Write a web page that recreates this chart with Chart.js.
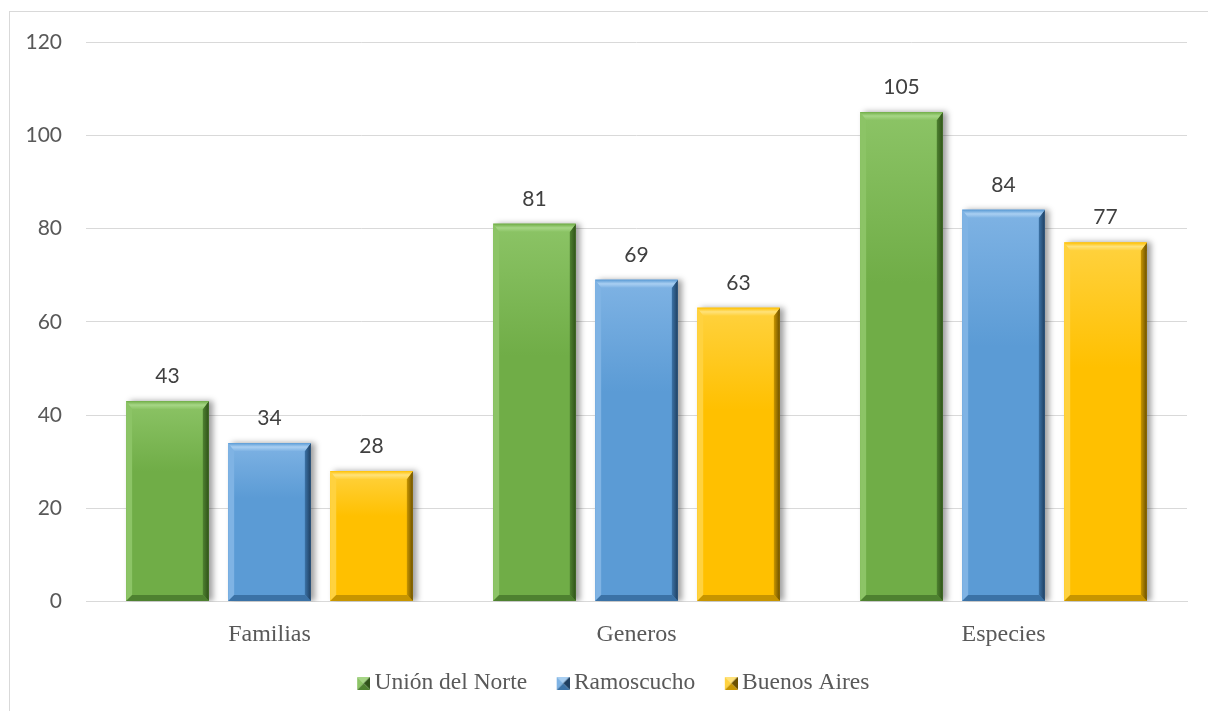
<!DOCTYPE html>
<html>
<head>
<meta charset="utf-8">
<script src="https://cdn.jsdelivr.net/npm/chart.js@4"></script>
<style>
  html, body { margin: 0; padding: 0; background: #fff; overflow: hidden; }
  #wrap { position: relative; width: 1208px; height: 711px; overflow: hidden; }
  #frame { position: absolute; left: 9px; top: 11px; width: 1300px; height: 800px;
           border: 1px solid #d9d9d9; box-sizing: border-box; }
  #c { position: absolute; left: 0; top: 0; }
</style>
</head>
<body>
<div id="wrap">
  <div id="frame"></div>
  <canvas id="c" width="1208" height="711"></canvas>
</div>
<script>
// Taxonomic richness per locality
const categories = ['Familias', 'Generos', 'Especies'];
const seriesNames = ['Unión del Norte', 'Ramoscucho', 'Buenos Aires'];
const unionDelNorte = [43, 81, 105];
const ramoscucho = [34, 69, 84];
const buenosAires = [28, 63, 77];
const yTicks = [0, 20, 40, 60, 80, 100, 120];

// Bevel palette for each series: face, highlight, top edge, shade, bottom edge
const palettes = [
  { face: '#70ad47', light: '#8cc466', top: '#a6d686', dark: '#2f5219', bottom: '#4e8130' },
  { face: '#5b9bd5', light: '#7fb3e4', top: '#a9cff2', dark: '#1f3f60', bottom: '#3b72a6' },
  { face: '#ffc000', light: '#ffd23f', top: '#ffe27a', dark: '#6b5000', bottom: '#c79500' }
];

const legendFont = 23.5;
const legendBox = 13;

// Small pyramid-shaded square used as legend marker; it sits at the right
// end of a wider transparent canvas so it hugs the label text.
function legendIcon(p) {
  const s = 13, w = 28, cv = document.createElement('canvas');
  cv.width = w; cv.height = s;
  const g = cv.getContext('2d'), m = s / 2, o = w - s;
  const tri = (pts, col) => { g.beginPath(); g.moveTo(o + pts[0], pts[1]);
    for (let i = 2; i < pts.length; i += 2) g.lineTo(o + pts[i], pts[i + 1]);
    g.closePath(); g.fillStyle = col; g.fill(); };
  tri([0, 0, s, 0, m, m], p.top);
  tri([0, 0, m, m, 0, s], p.light);
  tri([s, 0, s, s, m, m], p.dark);
  tri([0, s, m, m, s, s], p.bottom);
  return cv;
}
const icons = palettes.map(legendIcon);

const seriesValues = [unionDelNorte, ramoscucho, buenosAires];

function poly(ctx, pts, fill) {
  ctx.beginPath();
  ctx.moveTo(pts[0], pts[1]);
  for (let i = 2; i < pts.length; i += 2) ctx.lineTo(pts[i], pts[i + 1]);
  ctx.closePath();
  ctx.fillStyle = fill;
  ctx.fill();
}

// Drop shadow under the bars, then bevelled faces and value labels on top
const bevelPlugin = {
  id: 'bevel',
  afterLayout(chart) {
    // nudge the legend row so it sits under the plot
    const lg = chart.legend;
    if (lg) { lg.left += 16; lg.right += 16; }
  },
  beforeDatasetsDraw(chart) {
    const ctx = chart.ctx;
    ctx.save();
    ctx.shadowColor = 'rgba(0,0,0,0.38)';
    ctx.shadowBlur = 6;
    ctx.shadowOffsetX = 4;
    ctx.shadowOffsetY = 0;
  },
  afterDatasetsDraw(chart) {
    const ctx = chart.ctx;
    ctx.restore();
    chart.data.datasets.forEach((ds, di) => {
      const p = palettes[di];
      const meta = chart.getDatasetMeta(di);
      meta.data.forEach((bar, i) => {
        const { x, y, width, base } = bar.getProps(['x', 'y', 'width', 'base'], true);
        const l = x - width / 2, r = x + width / 2, t = y, b = base;
        const bt = 8, bs = 6, bb = 6;
        ctx.save();
        const fg = ctx.createLinearGradient(0, t, 0, b);
        fg.addColorStop(0, p.light);
        fg.addColorStop(0.35, p.face);
        fg.addColorStop(1, p.face);
        poly(ctx, [l, t, r, t, r, b, l, b], fg);
        poly(ctx, [l, t, l + bs, t + bt, l + bs, b - bb, l, b], p.light);
        const rg = ctx.createLinearGradient(r - bs, 0, r, 0);
        rg.addColorStop(0, p.bottom);
        rg.addColorStop(1, p.dark);
        poly(ctx, [r, t, r, b, r - bs, b - bb, r - bs, t + bt], rg);
        poly(ctx, [l, b, l + bs, b - bb, r - bs, b - bb, r, b], p.bottom);
        const tg = ctx.createLinearGradient(0, t, 0, t + bt);
        tg.addColorStop(0, p.face);
        tg.addColorStop(0.5, p.top);
        tg.addColorStop(1, p.light);
        poly(ctx, [l, t, r, t, r - bs, t + bt, l + bs, t + bt], tg);
        ctx.restore();

        ctx.save();
        ctx.font = '21px Lato, "Open Sans", sans-serif';
        ctx.fillStyle = '#404040';
        ctx.textAlign = 'center';
        ctx.textBaseline = 'middle';
        ctx.fillText(String(ds.data[i]), x, t - 25);
        ctx.restore();
      });
    });
  }
};

new Chart(document.getElementById('c'), {
  type: 'bar',
  data: {
    labels: categories,
    datasets: seriesNames.map((name, i) => ({
      label: name,
      data: seriesValues[i],
      backgroundColor: palettes[i].face,
      borderWidth: 0,
      categoryPercentage: 0.834,
      barPercentage: 0.81
    }))
  },
  options: {
    responsive: false,
    animation: false,
    devicePixelRatio: 1,
    layout: { padding: { top: 42, right: 21, bottom: 6, left: 0 } },
    plugins: {
      tooltip: { enabled: false },
      legend: {
        position: 'bottom',
        labels: {
          usePointStyle: true,
          generateLabels(chart) {
            return chart.data.datasets.map((ds, i) => ({
              text: ds.label,
              pointStyle: icons[i],
              fillStyle: palettes[i].face,
              strokeStyle: palettes[i].face,
              lineWidth: 0,
              hidden: false,
              datasetIndex: i,
              fontColor: '#595959'
            }));
          },
          boxWidth: legendBox,
          boxHeight: legendBox,
          padding: 22,
          color: '#595959',
          font: { family: '"Liberation Serif", "Times New Roman", serif', size: legendFont }
        }
      }
    },
    scales: {
      x: {
        grid: { display: false, drawTicks: false },
        border: { display: true, color: '#d9d9d9', width: 1 },
        ticks: {
          color: '#595959',
          padding: 19,
          font: { family: '"Liberation Serif", "Times New Roman", serif', size: 24 }
        },
        afterFit(scale) { scale.height = 48; }
      },
      y: {
        min: 0,
        max: 120,
        afterBuildTicks(scale) { scale.ticks = yTicks.map(v => ({ value: v })); },
        grid: { color: '#d9d9d9', lineWidth: 1, drawTicks: false },
        border: { display: false },
        ticks: {
          color: '#595959',
          padding: 24,
          font: { family: 'Lato, "Open Sans", sans-serif', size: 21 }
        },
        afterFit(scale) { scale.width = 86; }
      }
    }
  },
  plugins: [bevelPlugin]
});
</script>
</body>
</html>
